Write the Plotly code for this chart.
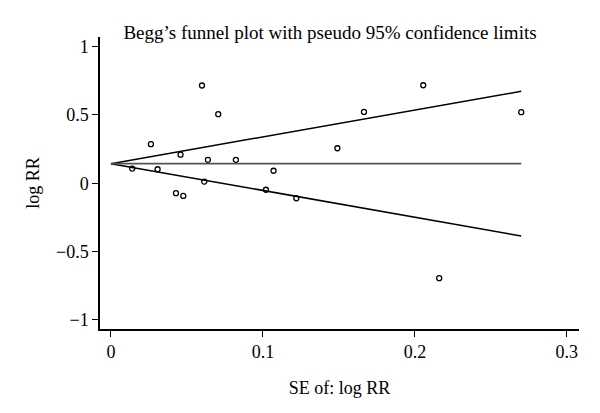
import plotly.graph_objects as go

# Study data (standard error and log relative risk)
se_logrr = [0.014, 0.0263, 0.0307, 0.0428, 0.0458, 0.0476, 0.0599, 0.0614, 0.0638,
            0.0706, 0.0822, 0.102, 0.107, 0.122, 0.149, 0.1665, 0.2055, 0.216, 0.270]
log_rr = [0.107, 0.286, 0.102, -0.073, 0.209, -0.093, 0.715, 0.012, 0.171,
          0.505, 0.171, -0.048, 0.091, -0.110, 0.256, 0.522, 0.717, -0.695, 0.520]

pooled_log_rr = 0.143
z95 = 1.96

x_ticks = [0, 0.1, 0.2, 0.3]
x_tick_labels = ["0", "0.1", "0.2", "0.3"]
y_ticks = [-1, -0.5, 0, 0.5, 1]
y_tick_labels = ["\u22121", "\u22120.5", "0", "0.5", "1"]

title_text = "Begg\u2019s funnel plot with pseudo 95% confidence limits"
x_title = "SE of: log RR"
y_title = "log RR"

se_max = max(se_logrr)
line_x = [0, se_max]
upper = [pooled_log_rr + z95 * s for s in line_x]
lower = [pooled_log_rr - z95 * s for s in line_x]

FONT = "Liberation Serif"

fig = go.Figure()
fig.add_trace(go.Scatter(x=line_x, y=upper, mode="lines",
                         line=dict(color="black", width=1.5), hoverinfo="skip"))
fig.add_trace(go.Scatter(x=line_x, y=lower, mode="lines",
                         line=dict(color="black", width=1.5), hoverinfo="skip"))
fig.add_trace(go.Scatter(x=line_x, y=[pooled_log_rr, pooled_log_rr], mode="lines",
                         line=dict(color="#555555", width=1.8), hoverinfo="skip"))
fig.add_trace(go.Scatter(x=se_logrr, y=log_rr, mode="markers",
                         marker=dict(symbol="circle-open", size=5, color="black",
                                     line=dict(width=1.3, color="black"))))

fig.update_layout(
    width=600, height=413,
    margin=dict(l=100, r=21, t=37, b=84),
    paper_bgcolor="white", plot_bgcolor="white",
    showlegend=False,
    font=dict(family=FONT, size=18, color="black"),
    title=dict(text=title_text, x=0.55, xanchor="center", y=1 - 32 / 413,
               yanchor="middle", font=dict(family=FONT, size=19, color="black")),
)
fig.update_xaxes(
    range=[-0.0072, 0.308], showgrid=False, zeroline=False, automargin=False,
    showline=True, linecolor="black", linewidth=1.5,
    ticks="outside", ticklen=6, tickwidth=1.2, tickcolor="black",
    tickvals=x_ticks, ticktext=x_tick_labels,
    tickfont=dict(family=FONT, size=18),
    title=dict(text=x_title, font=dict(family=FONT, size=18), standoff=20),
)
fig.update_yaxes(
    range=[-1.067, 1.07], showgrid=False, zeroline=False, automargin=False,
    showline=True, linecolor="black", linewidth=1.5,
    ticks="outside", ticklen=6, tickwidth=1.2, tickcolor="black",
    tickvals=y_ticks, ticktext=y_tick_labels,
    tickfont=dict(family=FONT, size=18),
    title=dict(text=y_title, font=dict(family=FONT, size=18), standoff=12),
)

fig.write_html("out.html", config={"displayModeBar": False},
               post_script="document.body.style.margin='0';")
